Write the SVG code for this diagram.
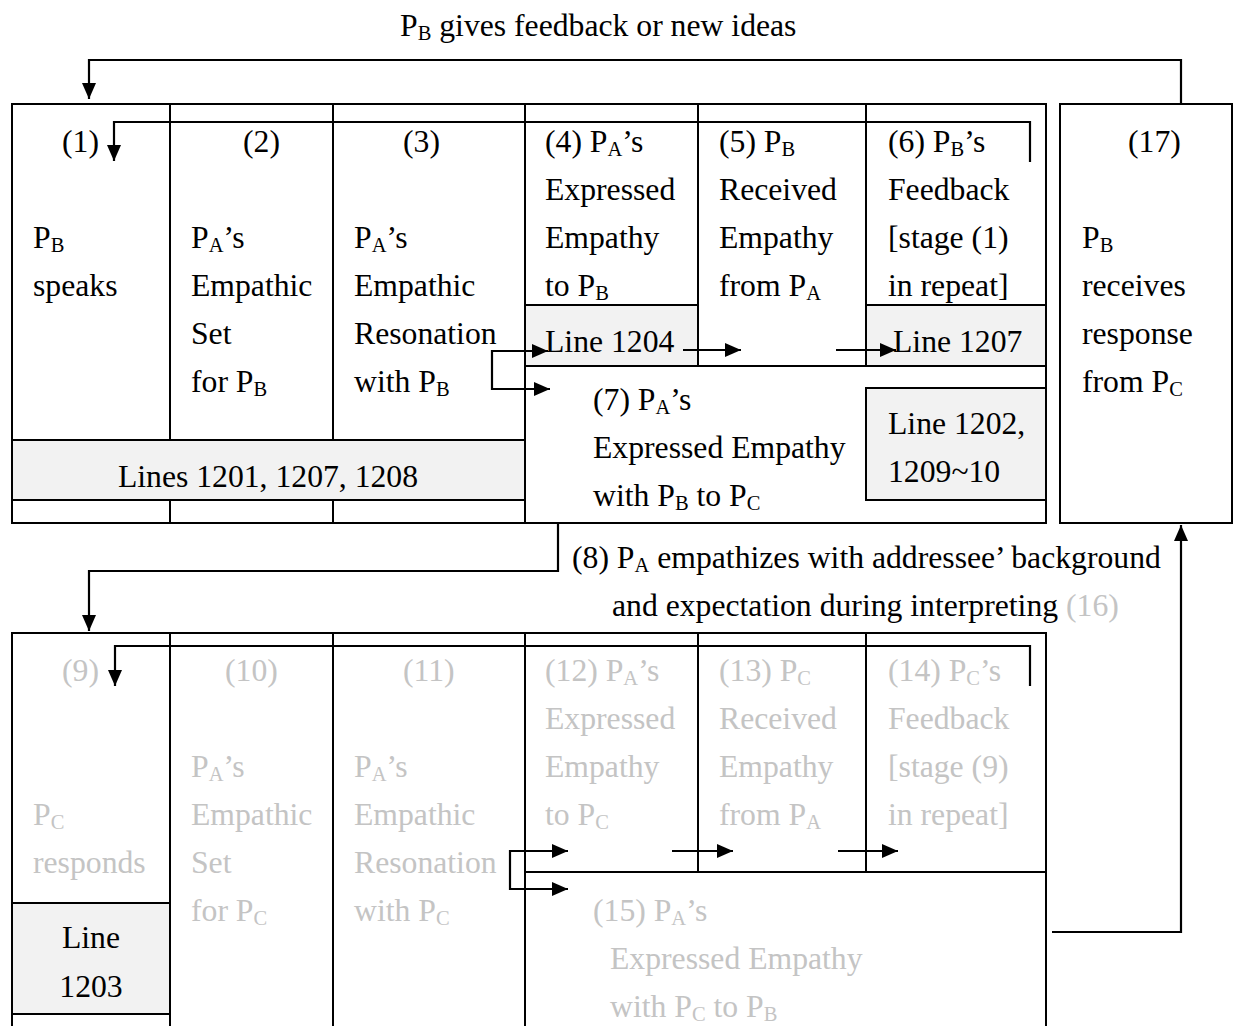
<svg xmlns="http://www.w3.org/2000/svg" width="1235" height="1026" viewBox="0 0 1235 1026">
  <style>
    text { font-family: "Liberation Serif", "Times New Roman", serif; font-size: 31.7px; fill: #000; }
    .g { fill: #c4c4c4; }
    .s { font-size: 20.5px; }
    .m { text-anchor: middle; }
    .b { fill: none; stroke: #000; stroke-width: 2; }
    .box { fill: #fff; stroke: #000; stroke-width: 2; }
    .sh { fill: #f2f2f2; stroke: #000; stroke-width: 2; }
    .c { fill: none; stroke: #000; stroke-width: 2.2; }
  </style>
  <defs>
    <marker id="ah" markerUnits="userSpaceOnUse" markerWidth="17" markerHeight="15" refX="16" refY="7" orient="auto">
      <path d="M0,0 L16,7 L0,14 z" fill="#000"/>
    </marker>
  </defs>
  <rect width="1235" height="1026" fill="#fff"/>

  <!-- Upper stage table: PB speaking to PA -->
  <g id="upper-table">
    <rect class="box" x="12" y="104" width="1034" height="419"/>
    <line class="b" x1="170" y1="104" x2="170" y2="523"/>
    <line class="b" x1="333" y1="104" x2="333" y2="523"/>
    <line class="b" x1="525" y1="104" x2="525" y2="523"/>
    <line class="b" x1="698" y1="104" x2="698" y2="366"/>
    <line class="b" x1="866" y1="104" x2="866" y2="366"/>
    <line class="b" x1="525" y1="366" x2="1046" y2="366"/>
    <line class="b" x1="12" y1="500" x2="525" y2="500"/>
  </g>

  <g id="stage-1">
    <text x="62" y="152">(1)</text>
    <text x="33" y="248">P<tspan class="s" dy="4">B</tspan></text>
    <text x="33" y="296">speaks</text>
  </g>
  <g id="stage-2">
    <text x="243" y="152">(2)</text>
    <text x="191" y="248">P<tspan class="s" dy="4">A</tspan><tspan dy="-4">’s</tspan></text>
    <text x="191" y="296">Empathic</text>
    <text x="191" y="344">Set</text>
    <text x="191" y="392">for P<tspan class="s" dy="4">B</tspan></text>
  </g>
  <g id="stage-3">
    <text x="403" y="152">(3)</text>
    <text x="354" y="248">P<tspan class="s" dy="4">A</tspan><tspan dy="-4">’s</tspan></text>
    <text x="354" y="296">Empathic</text>
    <text x="354" y="344">Resonation</text>
    <text x="354" y="392">with P<tspan class="s" dy="4">B</tspan></text>
  </g>
  <g id="lines-1201">
    <rect class="sh" x="12" y="440" width="513" height="60"/>
    <text class="m" x="268" y="487">Lines 1201, 1207, 1208</text>
  </g>
  <g id="stage-4">
    <text x="545" y="152">(4) P<tspan class="s" dy="4">A</tspan><tspan dy="-4">’s</tspan></text>
    <text x="545" y="200">Expressed</text>
    <text x="545" y="248">Empathy</text>
    <text x="545" y="296">to P<tspan class="s" dy="4">B</tspan></text>
    <rect class="sh" x="525" y="305" width="173" height="61"/>
    <text x="545" y="352">Line 1204</text>
  </g>
  <g id="stage-5">
    <text x="719" y="152">(5) P<tspan class="s" dy="4">B</tspan></text>
    <text x="719" y="200">Received</text>
    <text x="719" y="248">Empathy</text>
    <text x="719" y="296">from P<tspan class="s" dy="4">A</tspan></text>
  </g>
  <g id="stage-6">
    <text x="888" y="152">(6) P<tspan class="s" dy="4">B</tspan><tspan dy="-4">’s</tspan></text>
    <text x="888" y="200">Feedback</text>
    <text x="888" y="248">[stage (1)</text>
    <text x="888" y="296">in repeat]</text>
    <rect class="sh" x="866" y="305" width="180" height="61"/>
    <text x="893" y="352">Line 1207</text>
  </g>
  <g id="stage-7">
    <text x="593" y="410">(7) P<tspan class="s" dy="4">A</tspan><tspan dy="-4">’s</tspan></text>
    <text x="593" y="458">Expressed Empathy</text>
    <text x="593" y="506">with P<tspan class="s" dy="4">B</tspan><tspan dy="-4"> to P</tspan><tspan class="s" dy="4">C</tspan></text>
    <rect class="sh" x="866" y="388" width="180" height="112"/>
    <text x="888" y="434">Line 1202,</text>
    <text x="888" y="482">1209~10</text>
  </g>
  <g id="stage-17">
    <rect class="box" x="1060" y="104" width="172" height="419"/>
    <text x="1128" y="152">(17)</text>
    <text x="1082" y="248">P<tspan class="s" dy="4">B</tspan></text>
    <text x="1082" y="296">receives</text>
    <text x="1082" y="344">response</text>
    <text x="1082" y="392">from P<tspan class="s" dy="4">C</tspan></text>
  </g>

  <!-- Lower stage table: PC responding through PA -->
  <g id="lower-table">
    <polyline class="b" points="12,1030 12,633 1046,633 1046,1030"/>
    <line class="b" x1="170" y1="633" x2="170" y2="1030"/>
    <line class="b" x1="333" y1="633" x2="333" y2="1030"/>
    <line class="b" x1="525" y1="633" x2="525" y2="1030"/>
    <line class="b" x1="698" y1="633" x2="698" y2="872"/>
    <line class="b" x1="866" y1="633" x2="866" y2="872"/>
    <line class="b" x1="525" y1="872" x2="1046" y2="872"/>
  </g>
  <g id="stage-9">
    <text class="g" x="62" y="681">(9)</text>
    <text class="g" x="33" y="825">P<tspan class="s" dy="4">C</tspan></text>
    <text class="g" x="33" y="873">responds</text>
    <rect class="sh" x="12" y="903" width="158" height="111"/>
    <text class="m" x="91" y="948">Line</text>
    <text class="m" x="91" y="997">1203</text>
  </g>
  <g id="stage-10">
    <text class="g" x="225" y="681">(10)</text>
    <text class="g" x="191" y="777">P<tspan class="s" dy="4">A</tspan><tspan dy="-4">’s</tspan></text>
    <text class="g" x="191" y="825">Empathic</text>
    <text class="g" x="191" y="873">Set</text>
    <text class="g" x="191" y="921">for P<tspan class="s" dy="4">C</tspan></text>
  </g>
  <g id="stage-11">
    <text class="g" x="403" y="681">(11)</text>
    <text class="g" x="354" y="777">P<tspan class="s" dy="4">A</tspan><tspan dy="-4">’s</tspan></text>
    <text class="g" x="354" y="825">Empathic</text>
    <text class="g" x="354" y="873">Resonation</text>
    <text class="g" x="354" y="921">with P<tspan class="s" dy="4">C</tspan></text>
  </g>
  <g id="stage-12">
    <text class="g" x="545" y="681">(12) P<tspan class="s" dy="4">A</tspan><tspan dy="-4">’s</tspan></text>
    <text class="g" x="545" y="729">Expressed</text>
    <text class="g" x="545" y="777">Empathy</text>
    <text class="g" x="545" y="825">to P<tspan class="s" dy="4">C</tspan></text>
  </g>
  <g id="stage-13">
    <text class="g" x="719" y="681">(13) P<tspan class="s" dy="4">C</tspan></text>
    <text class="g" x="719" y="729">Received</text>
    <text class="g" x="719" y="777">Empathy</text>
    <text class="g" x="719" y="825">from P<tspan class="s" dy="4">A</tspan></text>
  </g>
  <g id="stage-14">
    <text class="g" x="888" y="681">(14) P<tspan class="s" dy="4">C</tspan><tspan dy="-4">’s</tspan></text>
    <text class="g" x="888" y="729">Feedback</text>
    <text class="g" x="888" y="777">[stage (9)</text>
    <text class="g" x="888" y="825">in repeat]</text>
  </g>
  <g id="stage-15">
    <text class="g" x="593" y="921">(15) P<tspan class="s" dy="4">A</tspan><tspan dy="-4">’s</tspan></text>
    <text class="g" x="610" y="969">Expressed Empathy</text>
    <text class="g" x="610" y="1017">with P<tspan class="s" dy="4">C</tspan><tspan dy="-4"> to P</tspan><tspan class="s" dy="4">B</tspan></text>
  </g>

  <!-- Connector labels -->
  <g id="label-feedback">
    <text x="400" y="36">P<tspan class="s" dy="4">B</tspan><tspan dy="-4"> gives feedback or new ideas</tspan></text>
  </g>
  <g id="label-8">
    <text x="572" y="568">(8) P<tspan class="s" dy="4">A</tspan><tspan dy="-4"> empathizes with addressee’ background</tspan></text>
    <text x="612" y="616">and expectation during interpreting <tspan class="g">(16)</tspan></text>
  </g>

  <!-- Connectors -->
  <g id="connectors">
    <polyline class="c" points="1181,104 1181,60 89,60 89,99" marker-end="url(#ah)"/>
    <polyline class="c" points="1030,162 1030,122 114,122 114,161" marker-end="url(#ah)"/>
    <polyline class="c" points="548,351 492,351 492,389 550,389" marker-end="url(#ah)"/>
    <line class="c" x1="492" y1="351" x2="548" y2="351" marker-end="url(#ah)"/>
    <line class="c" x1="683" y1="350" x2="741" y2="350" marker-end="url(#ah)"/>
    <line class="c" x1="836" y1="350" x2="896" y2="350" marker-end="url(#ah)"/>
    <polyline class="c" points="558,523 558,571 89,571 89,631" marker-end="url(#ah)"/>
    <polyline class="c" points="1030,686 1030,646 115,646 115,686" marker-end="url(#ah)"/>
    <polyline class="c" points="568,851 510,851 510,889 568,889" marker-end="url(#ah)"/>
    <line class="c" x1="510" y1="851" x2="568" y2="851" marker-end="url(#ah)"/>
    <line class="c" x1="672" y1="851" x2="733" y2="851" marker-end="url(#ah)"/>
    <line class="c" x1="838" y1="851" x2="898" y2="851" marker-end="url(#ah)"/>
    <polyline class="c" points="1052,932 1181,932 1181,525" marker-end="url(#ah)"/>
  </g>
</svg>
